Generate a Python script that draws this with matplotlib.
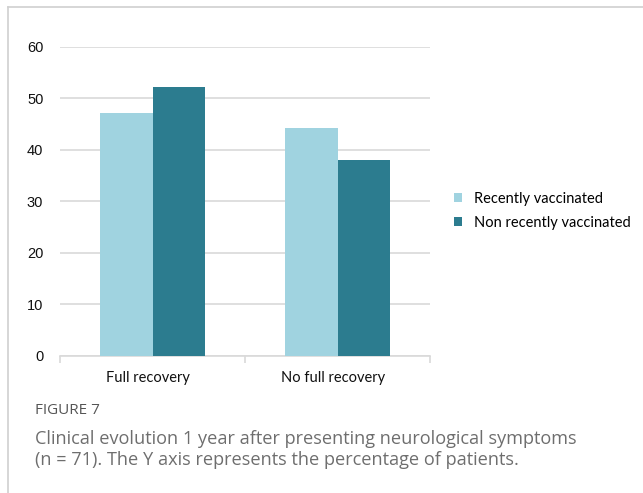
import numpy as np
import matplotlib.pyplot as plt
from matplotlib.lines import Line2D

categories = ["Full recovery", "No full recovery"]
series_names = ["Recently vaccinated", "Non recently vaccinated"]
recent = [47.1, 44.3]
non_recent = [52.2, 38.0]
y_ticks = [0, 10, 20, 30, 40, 50, 60]

light = "#a0d3e0"
dark = "#2c7c8f"
grid_col = "#d9d9d9"

fig = plt.figure(figsize=(6.43, 4.93), dpi=100)
ax = fig.add_axes([60 / 643, 1 - 355.7 / 493, 370 / 643, 309 / 493])

x = np.arange(len(categories))
w = 0.286
ax.bar(x - w / 2, recent, w, color=light, label=series_names[0], zorder=3)
ax.bar(x + w / 2, non_recent, w, color=dark, label=series_names[1], zorder=3)

ax.set_xlim(-0.5, 1.5)
ax.set_ylim(0, 60)
ax.set_yticks(y_ticks)
ax.set_yticklabels([str(t) for t in y_ticks], family="Liberation Sans", fontsize=10.5, color="#111111")
ax.yaxis.grid(True, color=grid_col, lw=1.2, zorder=0)
ax.tick_params(axis="y", length=0, pad=12)

# category labels at centres, tick marks at boundaries
ax.set_xticks(x - 0.025)
ax.set_xticklabels(categories, family="Lato", fontsize=10.5, color="#111111")
ax.tick_params(axis="x", which="major", length=0, pad=11)
ax.set_xticks([-0.5, 0.5, 1.5], minor=True)
ax.tick_params(axis="x", which="minor", length=5, color=grid_col, width=1.2)

for s in ["top", "right", "left"]:
    ax.spines[s].set_visible(False)
ax.spines["bottom"].set_color(grid_col)
ax.spines["bottom"].set_linewidth(1.2)

leg = ax.legend(loc="upper left", bbox_to_anchor=(1.05, 0.55), frameon=False,
                prop={"family": "Lato", "size": 10.5}, handlelength=0.55, handleheight=0.55,
                handletextpad=0.8, labelspacing=0.7, borderaxespad=0.0)

# caption
fig.text(35 / 643, 1 - 410 / 493, "FIGURE 7", family="Open Sans", fontsize=11,
         color="#555555", va="center")
fig.text(35 / 643, 1 - 449.5 / 493,
         "Clinical evolution 1 year after presenting neurological symptoms\n"
         "(n = 71). The Y axis represents the percentage of patients.",
         family="Open Sans", fontsize=13.1, color="#6e6e6e", va="center", linespacing=1.25)

# frame lines of the panel
fig.add_artist(Line2D([8 / 643, 1], [1 - 7 / 493, 1 - 7 / 493], color="#d0d0d0", lw=1.2))
fig.add_artist(Line2D([8 / 643, 8 / 643], [0, 1 - 7 / 493], color="#d0d0d0", lw=1.2))

fig.savefig("out.png", dpi=100)
